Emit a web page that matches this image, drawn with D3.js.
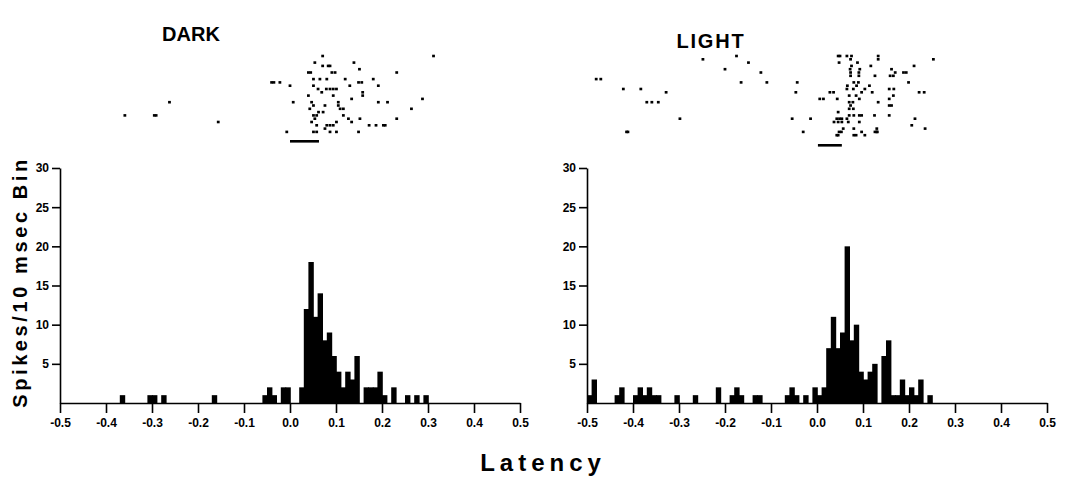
<!DOCTYPE html>
<html>
<head>
<meta charset="utf-8">
<script src="https://cdn.jsdelivr.net/npm/d3@7"></script>
<style>
  body { margin: 0; background: #fff; }
  svg { display: block; font-family: 'Liberation Sans', Arial, sans-serif; }
</style>
</head>
<body>
<script>
// Histogram: start of each 10 msec bin (sec) and spike count
const darkBins = [-0.37, -0.31, -0.30, -0.28, -0.17, -0.06, -0.05, -0.04, -0.02, -0.01,
  0.02, 0.03, 0.04, 0.05, 0.06, 0.07, 0.08, 0.09, 0.10, 0.11, 0.12, 0.13, 0.14,
  0.16, 0.17, 0.18, 0.19, 0.20, 0.22, 0.25, 0.27, 0.29];
const darkCounts = [1, 1, 1, 1, 1, 1, 2, 1, 2, 2,
  2, 12, 18, 11, 14, 8, 9, 6, 4, 2, 4, 3, 6,
  2, 2, 2, 4, 1, 2, 1, 1, 1];

const lightBins = [-0.50, -0.49, -0.44, -0.43, -0.40, -0.39, -0.38, -0.37, -0.36, -0.35,
  -0.31, -0.27, -0.22, -0.19, -0.18, -0.17, -0.14, -0.13, -0.07, -0.06, -0.05, -0.03,
  -0.01, 0.00, 0.01, 0.02, 0.03, 0.04, 0.05, 0.06, 0.07, 0.08, 0.09, 0.10, 0.11, 0.12,
  0.14, 0.15, 0.16, 0.17, 0.18, 0.19, 0.20, 0.21, 0.22, 0.24];
const lightCounts = [1, 3, 1, 2, 1, 2, 1, 2, 1, 1,
  1, 1, 2, 1, 2, 1, 1, 1, 1, 2, 1, 1,
  2, 1, 2, 7, 11, 7, 9, 20, 8, 10, 4, 3, 4, 5,
  6, 8, 1, 1, 3, 1, 2, 1, 3, 1];

// Raster: [latency, trial row]
const darkRaster = [
  [0.071, 0], [0.312, 0], [0.054, 2], [0.139, 2],
  [0.071, 3], [0.083, 3], [0.087, 3], [0.151, 4],
  [0.040, 5], [0.045, 5], [0.091, 5], [0.098, 5], [0.232, 5],
  [0.051, 7], [0.065, 7], [0.080, 7], [0.120, 7], [0.181, 7],
  [-0.040, 8], [-0.035, 8], [-0.022, 8], [0.149, 8], [0.156, 8],
  [0.000, 9], [0.051, 9], [0.130, 9], [0.192, 9],
  [0.061, 10], [0.079, 10], [0.087, 10], [0.094, 10], [0.101, 10],
  [0.069, 11], [0.158, 11], [0.040, 12], [0.094, 12], [0.158, 12],
  [0.134, 13], [0.288, 13],
  [-0.262, 14], [0.007, 14], [0.047, 14], [0.105, 14], [0.192, 14], [0.212, 14],
  [0.051, 15], [0.076, 15], [0.105, 15],
  [0.043, 16], [0.109, 16], [0.116, 16], [0.264, 16],
  [0.062, 17], [0.072, 17],
  [-0.359, 18], [-0.295, 18], [-0.291, 18], [0.051, 18], [0.058, 18], [0.116, 18],
  [0.054, 19], [0.127, 19], [0.152, 19], [0.232, 19],
  [-0.156, 20], [0.047, 20], [0.101, 20], [0.134, 20],
  [0.058, 21], [0.080, 21], [0.087, 21], [0.094, 21], [0.172, 21], [0.187, 21], [0.203, 21], [0.207, 21],
  [0.076, 22],
  [-0.007, 23], [0.051, 23], [0.058, 23], [0.087, 23], [0.101, 23], [0.149, 23]
];

const lightRaster = [
  [-0.48, 7], [-0.47, 7], [-0.421, 10], [-0.383, 10], [-0.328, 11],
  [-0.370, 14], [-0.359, 14], [-0.345, 14], [-0.298, 19], [-0.414, 23], [-0.411, 23],
  [-0.248, 1], [-0.175, 0], [-0.149, 2], [-0.200, 4], [-0.122, 5], [-0.165, 8], [-0.109, 8],
  [-0.043, 8], [-0.046, 11], [-0.054, 19], [-0.014, 19], [-0.030, 23],
  [0.006, 13], [0.014, 13], [0.028, 11], [0.036, 11], [0.044, 13],
  [0.046, 0], [0.050, 0], [0.065, 0], [0.075, 0],
  [0.048, 2], [0.073, 1], [0.075, 3], [0.088, 2],
  [0.072, 4], [0.093, 4], [0.073, 5], [0.091, 5], [0.073, 6], [0.091, 6],
  [0.090, 8], [0.080, 8], [0.133, 0], [0.133, 1], [0.117, 3], [0.126, 6],
  [0.253, 1], [0.211, 3], [0.162, 4], [0.170, 5], [0.159, 6], [0.166, 6],
  [0.188, 5], [0.194, 5], [0.199, 8],
  [0.114, 9], [0.104, 10], [0.066, 9], [0.086, 9], [0.065, 10], [0.079, 10],
  [0.120, 11], [0.097, 11], [0.157, 10], [0.167, 10], [0.222, 11], [0.233, 11],
  [0.166, 12], [0.085, 12], [0.092, 13], [0.070, 12],
  [0.070, 14], [0.078, 14], [0.157, 13], [0.133, 14],
  [0.073, 15], [0.070, 16], [0.079, 16], [0.157, 15], [0.162, 15], [0.046, 17],
  [0.070, 18], [0.080, 18], [0.092, 18], [0.097, 18], [0.125, 18], [0.157, 18], [0.213, 19],
  [0.043, 19], [0.049, 19], [0.054, 19], [0.065, 19],
  [0.037, 20], [0.046, 20], [0.054, 20], [0.068, 20], [0.092, 20], [0.206, 21],
  [0.057, 22], [0.080, 22], [0.130, 22], [0.130, 23], [0.235, 22],
  [0.048, 23], [0.053, 23], [0.097, 23], [0.126, 23], [0.131, 23],
  [0.043, 24], [0.046, 24], [0.080, 24], [0.085, 24], [0.104, 24]
];

// Stimulus marker under each raster (sec)
const darkStim = [0.0, 0.063];
const lightStim = [0.002, 0.054];

const xTicks = [-0.5, -0.4, -0.3, -0.2, -0.1, 0.0, 0.1, 0.2, 0.3, 0.4, 0.5];
const yTicks = [5, 10, 15, 20, 25, 30];
const panelTitles = ['DARK', 'LIGHT'];
const xLabel = 'Latency';
const yLabel = 'Spikes/10 msec Bin';

const fullWidth = 1067;
const fullHeight = 480;
const binWidth = 0.01;

const svg = d3.select('body')
  .append('svg')
  .attr('width', fullWidth)
  .attr('height', fullHeight);

function drawPanel(opts) {
  const x = d3.scaleLinear().domain([-0.5, 0.5]).range([opts.left, opts.left + 460]);
  const y = d3.scaleLinear().domain([0, 30]).range([403, 168]);
  const row = d3.scaleLinear().domain([0, 1]).range([opts.rasterTop, opts.rasterTop + 3.3]);

  const g = svg.append('g');

  // Histogram bars (slight overlap so neighbours merge)
  g.append('g')
    .selectAll('rect')
    .data(opts.bins.map((b, i) => ({ t: b, n: opts.counts[i] })))
    .enter()
    .append('rect')
    .attr('x', d => x(d.t))
    .attr('width', d => x(d.t + binWidth) - x(d.t) + 0.8)
    .attr('y', d => y(d.n))
    .attr('height', d => y(0) - y(d.n))
    .style('fill', '#000');

  // Raster dots
  g.append('g')
    .selectAll('rect')
    .data(opts.raster)
    .enter()
    .append('rect')
    .attr('x', d => x(d[0]) - 1.4)
    .attr('y', d => row(d[1]) - 1.3)
    .attr('width', 2.8)
    .attr('height', 2.6)
    .style('fill', '#000');

  g.append('rect')
    .attr('x', x(opts.stim[0]))
    .attr('y', opts.stimY)
    .attr('width', x(opts.stim[1]) - x(opts.stim[0]))
    .attr('height', 2.6)
    .style('fill', '#000');

  // Axes
  const xAxis = d3.axisBottom(x)
    .tickValues(xTicks)
    .tickFormat(d => d.toFixed(1))
    .tickSize(10)
    .tickSizeOuter(0)
    .tickPadding(5);

  const gx = g.append('g')
    .attr('transform', `translate(0, ${y(0)})`)
    .call(xAxis);

  const yAxis = d3.axisLeft(y)
    .tickValues(yTicks)
    .tickSize(8)
    .tickSizeOuter(0)
    .tickPadding(3);

  const gy = g.append('g')
    .attr('transform', `translate(${x(-0.5)}, 0)`)
    .call(yAxis);

  [gx, gy].forEach(ax => {
    ax.selectAll('path, line').style('stroke', '#000').style('stroke-width', 1.6);
    ax.selectAll('text')
      .style('font-size', '12px')
      .style('font-weight', 'bold')
      .style('fill', '#000')
      .style('font-family', "'Liberation Sans', Arial, sans-serif");
  });

  // Title
  g.append('text')
    .attr('x', opts.titleX)
    .attr('y', opts.titleY)
    .attr('text-anchor', 'middle')
    .style('font-size', '20px')
    .style('font-weight', 'bold')
    .style('letter-spacing', opts.titleSpacing)
    .text(opts.title);
}

drawPanel({
  left: 60, bins: darkBins, counts: darkCounts, raster: darkRaster,
  stim: darkStim, stimY: 140, rasterTop: 56,
  title: panelTitles[0], titleX: 191, titleY: 41, titleSpacing: '0px'
});

drawPanel({
  left: 587, bins: lightBins, counts: lightCounts, raster: lightRaster,
  stim: lightStim, stimY: 144, rasterTop: 56,
  title: panelTitles[1], titleX: 711, titleY: 48, titleSpacing: '1.8px'
});

// Shared axis titles
svg.append('text')
  .attr('x', 543)
  .attr('y', 471)
  .attr('text-anchor', 'middle')
  .style('font-size', '24px')
  .style('font-weight', 'bold')
  .style('letter-spacing', '5px')
  .text(xLabel);

svg.append('text')
  .attr('transform', 'translate(27, 282) rotate(-90)')
  .attr('text-anchor', 'middle')
  .style('font-size', '20px')
  .style('font-weight', 'bold')
  .style('letter-spacing', '3.6px')
  .text(yLabel);
</script>
</body>
</html>
